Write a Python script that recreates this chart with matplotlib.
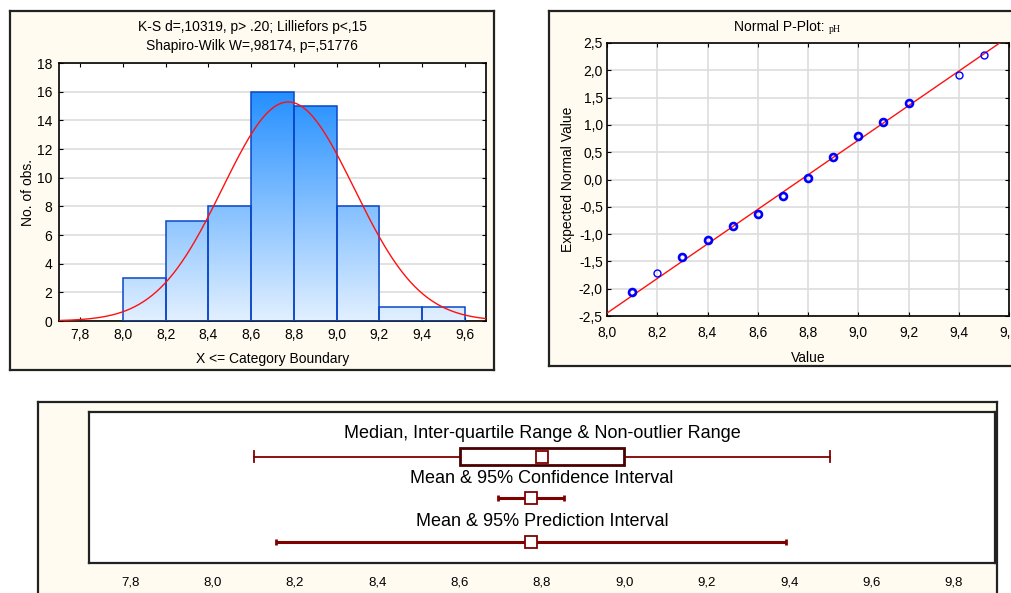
import numpy as np
import matplotlib
matplotlib.use("Agg")
import matplotlib.pyplot as plt
from matplotlib.colors import LinearSegmentedColormap
from matplotlib.ticker import FuncFormatter, MultipleLocator

plt.rcParams['font.family'] = ['Liberation Sans', 'DejaVu Sans']

# histogram data
bin_edges = [8.0, 8.2, 8.4, 8.6, 8.8, 9.0, 9.2, 9.4, 9.6]
counts = [3, 7, 8, 16, 15, 8, 1, 1]
fit_mean = 8.774
fit_sd = 0.308

# normal probability plot data
pp_values = [8.1, 8.2, 8.3, 8.4, 8.5, 8.6, 8.7, 8.8, 8.9, 9.0, 9.1, 9.2, 9.4, 9.5]
pp_expected = [-2.06, -1.71, -1.42, -1.10, -0.85, -0.63, -0.30, 0.03, 0.41, 0.79, 1.05, 1.41, 1.91, 2.28]
pp_bold = [True, False, True, True, True, True, True, True, True, True, True, True, False, False]
pp_sd = 0.316

# box / interval data
box_whisk = (8.1, 9.5)
box_iqr = (8.6, 9.0)
box_median = 8.8
ci = (8.693, 8.853)
pi = (8.154, 9.392)
mean_val = 8.773
row_labels = ["Median, Inter-quartile Range & Non-outlier Range",
              "Mean & 95% Confidence Interval",
              "Mean & 95% Prediction Interval"]

W, H = 1011, 593
cream = '#FFFBF0'
dred = '#800000'


def px(l, t, r, b):
    return [l / W, 1 - b / H, (r - l) / W, (b - t) / H]


def comma(fmt):
    return FuncFormatter(lambda v, p: (fmt % v).replace('.', ','))


def panel(fig, rect):
    a = fig.add_axes(px(*rect), facecolor=cream)
    a.set_xticks([])
    a.set_yticks([])
    for s in a.spines.values():
        s.set_linewidth(1.6)
        s.set_color('#222222')
    a.set_zorder(0)
    return a


fig = plt.figure(figsize=(W / 100, H / 100), dpi=100)

# panel backgrounds
panel(fig, (10, 11, 494, 370))
panel(fig, (549, 11, 1030, 366))
panel(fig, (38, 402, 997, 620))

# ---------------- histogram ----------------
ax = fig.add_axes(px(59, 63, 486, 321))
ax.set_zorder(1)
ax.set_xlim(7.7, 9.7)
ax.set_ylim(0, 18)
cmap = LinearSegmentedColormap.from_list('b', ['#E2F0FF', '#1E8CFF'])
grad = np.linspace(0, 1, 256).reshape(-1, 1)
for i, c in enumerate(counts):
    x0, x1 = bin_edges[i], bin_edges[i + 1]
    bar = ax.bar(x0, c, width=x1 - x0, align='edge', facecolor='none',
                 edgecolor='#0A46C8', linewidth=1.1, zorder=3)[0]
    im = ax.imshow(grad, cmap=cmap, aspect='auto', origin='lower',
                   extent=(7.7, 9.7, 0, 16.5), zorder=2, vmin=0, vmax=1)
    im.set_clip_path(bar)
xs = np.linspace(7.7, 9.7, 300)
ys = sum(counts) * 0.2 / (fit_sd * np.sqrt(2 * np.pi)) * \
    np.exp(-0.5 * ((xs - fit_mean) / fit_sd) ** 2)
ax.plot(xs, ys, color='#FF1010', lw=1.0, zorder=4)
ax.set_xlim(7.7, 9.7)
ax.set_ylim(0, 18)
ax.xaxis.set_major_locator(MultipleLocator(0.2))
ax.yaxis.set_major_locator(MultipleLocator(2))
ax.xaxis.set_major_formatter(comma('%.1f'))
ax.yaxis.grid(True, color='#DDDDDD', lw=1.2)
ax.set_axisbelow(True)
ax.tick_params(direction='in', top=True, right=True, length=3, labelsize=10, pad=5)
ax.set_xlabel('X <= Category Boundary', fontsize=10, labelpad=7)
ax.set_ylabel('No. of obs.', fontsize=10, labelpad=1)
fig.text(252 / W, 1 - 27 / H, 'K-S d=,10319, p> .20; Lilliefors p<,15',
         ha='center', va='center', fontsize=10)
fig.text(252 / W, 1 - 46 / H, 'Shapiro-Wilk W=,98174, p=,51776',
         ha='center', va='center', fontsize=10)
for s in ax.spines.values():
    s.set_linewidth(1.2)

# ---------------- normal p-plot ----------------
bx = fig.add_axes(px(607, 43, 1009, 316))
bx.set_zorder(1)
bx.set_xlim(8.0, 9.6)
bx.set_ylim(-2.5, 2.5)
lx = np.array([8.0, 9.6])
bx.plot(lx, (lx - mean_val) / pp_sd, color='#FF1010', lw=1.0, zorder=3)
for v, e, b in zip(pp_values, pp_expected, pp_bold):
    bx.plot(v, e, 'o', mfc='none', mec='#0000FF', ms=5,
            mew=1.9 if b else 1.0, zorder=4)
bx.xaxis.set_major_locator(MultipleLocator(0.2))
bx.yaxis.set_major_locator(MultipleLocator(0.5))
bx.xaxis.set_major_formatter(comma('%.1f'))
bx.yaxis.set_major_formatter(comma('%.1f'))
bx.grid(True, color='#DDDDDD', lw=1.2)
bx.set_axisbelow(True)
bx.tick_params(direction='in', top=True, right=True, length=3, labelsize=10)
bx.tick_params(axis='x', pad=7)
bx.tick_params(axis='y', pad=3)
bx.set_xlabel('Value', fontsize=10, labelpad=8)
bx.set_ylabel('Expected Normal Value', fontsize=10, labelpad=3)
fig.text(734 / W, 1 - 27 / H, 'Normal P-Plot: ', ha='left', va='center', fontsize=10)
fig.text(829 / W, 1 - 29 / H, 'pH', ha='left', va='center', fontsize=7,
         family='Liberation Serif')
for s in bx.spines.values():
    s.set_linewidth(1.2)

# ---------------- interval plot ----------------
cx = fig.add_axes(px(89, 412, 995, 563))
cx.set_zorder(1)
cx.set_xlim(7.7, 9.9)
cx.set_ylim(0, 1)
rows_y = [0.705, 0.43, 0.14]
text_y = [0.855, 0.56, 0.275]
for ty, lab in zip(text_y, row_labels):
    cx.text(0.5, ty, lab, transform=cx.transAxes, ha='center', va='center', fontsize=13)
# median / iqr / non-outlier range
y0 = rows_y[0]
cx.plot(box_whisk, [y0, y0], color=dred, lw=1.3)
cx.plot([box_whisk[0]] * 2, [y0 - 0.035, y0 + 0.035], color=dred, lw=1.3)
cx.plot([box_whisk[1]] * 2, [y0 - 0.035, y0 + 0.035], color=dred, lw=1.3)
cx.add_patch(plt.Rectangle((box_iqr[0], y0 - 0.056), box_iqr[1] - box_iqr[0], 0.112,
                           facecolor='white', edgecolor='#4A0000', lw=2, zorder=3))
cx.plot(box_median, y0, 's', ms=8, mfc='white', mec=dred, mew=1.3, zorder=4)
# CI and PI
for yy, (lo, hi) in zip(rows_y[1:], [ci, pi]):
    cx.plot([lo, hi], [yy, yy], color=dred, lw=2.2, solid_capstyle='butt')
    cx.plot([lo, hi], [yy, yy], '|', color=dred, ms=5, mew=2)
    cx.plot(mean_val, yy, 's', ms=8, mfc='white', mec=dred, mew=1.3, zorder=4)
cx.xaxis.set_major_locator(MultipleLocator(0.2))
cx.set_xlim(7.7, 9.9)
cx.xaxis.set_major_formatter(comma('%.1f'))
cx.set_yticks([])
cx.tick_params(axis='x', length=0, labelsize=9.5, pad=10)
for s in cx.spines.values():
    s.set_linewidth(1.6)
    s.set_color('#222222')

fig.savefig('out.png', dpi=100, facecolor='white')
